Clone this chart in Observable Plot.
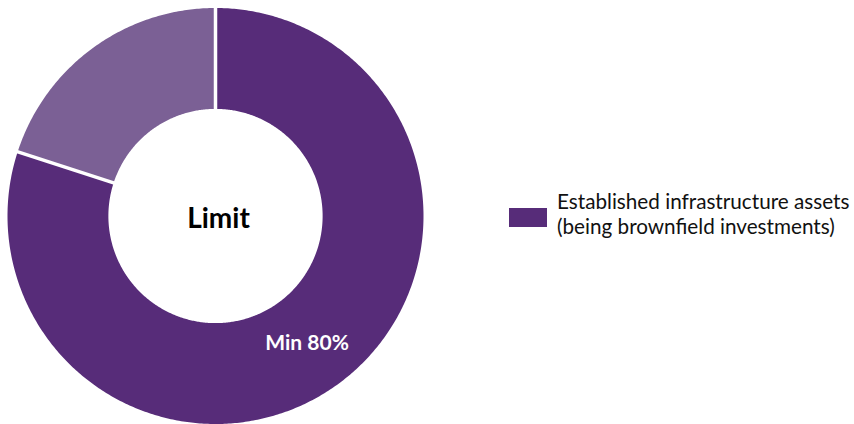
<!DOCTYPE html>
<html><head><meta charset="utf-8">
<script src="https://cdn.jsdelivr.net/npm/d3@7"></script>
<script src="https://cdn.jsdelivr.net/npm/@observablehq/plot@0.6"></script>
<style>
body{margin:0;background:#fff;}
#wrap{position:relative;width:854px;height:424px;overflow:hidden;}
#sw{position:absolute;left:509px;top:208px;width:38px;height:19px;}
#lt{position:absolute;left:557px;top:189px;font-family:Lato,"Open Sans",sans-serif;font-size:20.7px;line-height:25px;color:#111;white-space:nowrap;}
</style></head><body>
<div id="wrap"><div id="chart"></div><div id="sw"></div><div id="lt"></div></div>
<script>
const categories = ["Established infrastructure assets (being brownfield investments)", "Other"];
const values = [80, 20];
const colors = ["#572C79", "#7B6095"];
const centerTitle = "Limit";
const sliceLabels = ["Min 80%", ""];
const legendLines = ["Established infrastructure assets", "(being brownfield investments)"];

const R = 1, r = 0.515;
const pie = d3.pie().sort(null).value(d => d)(values);
const pts = [];
pie.forEach((s, i) => {
  const n = Math.max(8, Math.round((s.endAngle - s.startAngle) / 0.01));
  for (let k = 0; k <= n; k++) { const a = s.startAngle + (s.endAngle - s.startAngle) * k / n; pts.push({cat: categories[i], x: R * Math.sin(a), y: R * Math.cos(a)}); }
  for (let k = n; k >= 0; k--) { const a = s.startAngle + (s.endAngle - s.startAngle) * k / n; pts.push({cat: categories[i], x: r * Math.sin(a), y: r * Math.cos(a)}); }
});
const seps = pie.map(s => ({a: s.startAngle}));
const labels = pie.map((s, i) => { const a = (s.startAngle + s.endAngle) / 2, m = (R + r) / 2; return {x: m * Math.sin(a), y: m * Math.cos(a), text: sliceLabels[i]}; }).filter(d => d.text);

const chart = Plot.plot({
  width: 854, height: 424, margin: 0,
  x: {domain: [-1, 1], range: [7, 423], axis: null},
  y: {domain: [-1, 1], range: [423.5, 7.5], axis: null},
  color: {domain: categories, range: colors},
  style: {background: "white"},
  marks: [
    Plot.line(pts, {x: "x", y: "y", z: "cat", fill: "cat", stroke: "none"}),
    Plot.link(seps, {x1: d => r * 0.97 * Math.sin(d.a), y1: d => r * 0.97 * Math.cos(d.a), x2: d => R * 1.03 * Math.sin(d.a), y2: d => R * 1.03 * Math.cos(d.a), stroke: "white", strokeWidth: 3.5}),
    Plot.text([{x: 0, y: 0, text: centerTitle}], {x: "x", y: "y", text: "text", fontSize: 28, fontWeight: "bold", fontFamily: "Lato, sans-serif", fill: "#000", dx: 3, dy: 3}),
    Plot.text(labels, {x: "x", y: "y", text: "text", fontSize: 21, fontWeight: "bold", fontFamily: "Lato, sans-serif", fill: "white", dx: -1, dy: 0})
  ]
});
document.getElementById("chart").append(chart);
document.getElementById("sw").style.background = colors[0];
document.getElementById("lt").innerHTML = legendLines.join("<br>");
</script></body></html>
